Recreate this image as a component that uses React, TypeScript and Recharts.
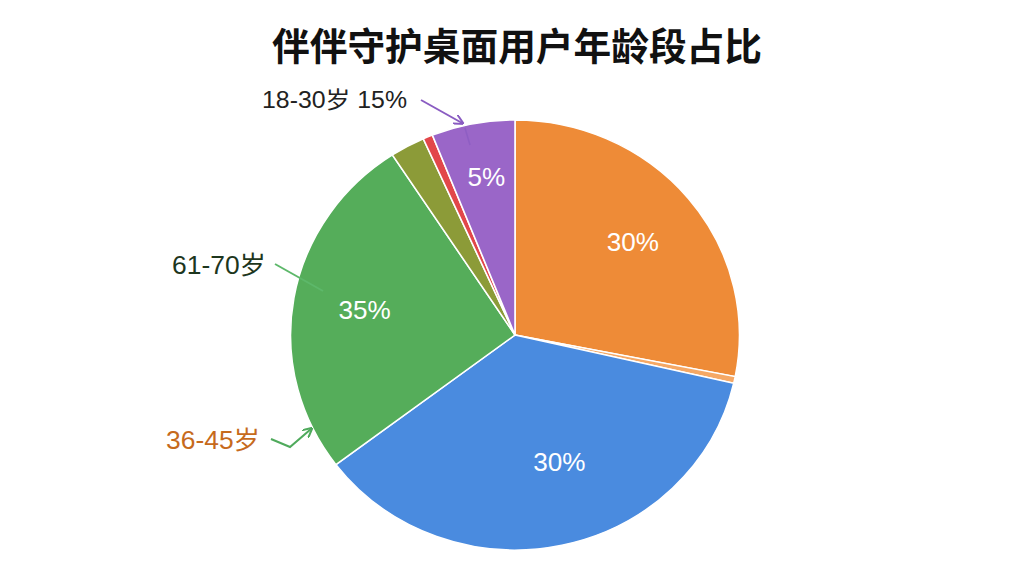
import React from "react";
import { PieChart, Pie, Cell } from "recharts";

// slices clockwise from 12 o'clock
const segments = ["orange", "orangeSliver", "blue", "green", "olive", "red", "purple"];
const shares = [28.1, 0.5, 36.1, 26.1, 2.5, 0.7, 6.0];
const sliceLabels = ["30%", "", "30%", "35%", "", "", "5%"];
const colors = ["#EE8B37", "#F5A865", "#4A8BDF", "#55AD5A", "#8C9B38", "#E2474A", "#9A66C8"];

const title = "伴伴守护桌面用户年龄段占比";
const callouts = ["18-30岁 15%", "61-70岁", "36-45岁"];

const data = segments.map((name, i) => ({ name, value: shares[i], label: sliceLabels[i] }));

const FONT = "'Liberation Sans', 'Noto Sans CJK SC', sans-serif";
const RAD = Math.PI / 180;
// the original picture is a little wider than tall
const STRETCH = 1.044;
// hand nudges for the in-slice labels, as in the original
const nudge: Record<string, [number, number]> = { blue: [12, -16], purple: [0, -14] };

const renderLabel = (props: any) => {
  const { cx, cy, midAngle, outerRadius, index } = props;
  const text = sliceLabels[index];
  if (!text) return null;
  const r = outerRadius * 0.68;
  const [nx, ny] = nudge[segments[index]] || [0, 0];
  const x = cx + r * Math.cos(-midAngle * RAD) + nx;
  const y = cy + r * Math.sin(-midAngle * RAD) + ny;
  return (
    <text x={x} y={y} fill="#fff" fontSize={25} fontFamily={FONT} textAnchor="middle" dominantBaseline="central">
      {text}
    </text>
  );
};

export default function App() {
  return (
    <div style={{ position: "absolute", left: 0, top: 0, width: 1024, height: 576, background: "#fff", overflow: "hidden" }}>
      <div style={{ position: "absolute", left: 0, top: 0, transform: `scaleX(${STRETCH})`, transformOrigin: "515px 0" }}>
        <PieChart width={1024} height={576} margin={{ top: 0, right: 0, bottom: 0, left: 0 }}>
          <Pie
            data={data}
            dataKey="value"
            nameKey="name"
            cx={515}
            cy={335}
            outerRadius={215}
            startAngle={90}
            endAngle={-270}
            stroke="#fff"
            strokeWidth={1.5}
            label={renderLabel}
            labelLine={false}
            isAnimationActive={false}
          >
            {data.map((d, i) => (
              <Cell key={d.name} fill={colors[i]} />
            ))}
          </Pie>
        </PieChart>
      </div>
      <svg width={1024} height={576} style={{ position: "absolute", left: 0, top: 0, pointerEvents: "none" }}>
        <defs>
          <marker id="ap" markerWidth="10" markerHeight="10" refX="8" refY="5" orient="auto" markerUnits="userSpaceOnUse">
            <path d="M0,0 L10,5 L0,10" fill="none" stroke="#8A5CC2" strokeWidth={2} />
          </marker>
          <marker id="ag" markerWidth="10" markerHeight="10" refX="8" refY="5" orient="auto" markerUnits="userSpaceOnUse">
            <path d="M0,0 L10,5 L0,10" fill="none" stroke="#4FAA5C" strokeWidth={2} />
          </marker>
        </defs>
        <text x={272} y={43} dominantBaseline="central" fontSize={38} fontWeight="bold" fill="#111"
          fontFamily="'Noto Sans CJK SC', sans-serif" textLength={490} lengthAdjust="spacingAndGlyphs">
          {title}
        </text>

        <text x={262} y={100} dominantBaseline="central" fontSize={23} fill="#222" fontFamily={FONT}
          textLength={145} lengthAdjust="spacingAndGlyphs">
          {callouts[0]}
        </text>
        <line x1={421} y1={100} x2={462} y2={123} stroke="#8A5CC2" strokeWidth={2} markerEnd="url(#ap)" />
        <line x1={465} y1={128} x2={470} y2={145} stroke="#8A5CC2" strokeWidth={1.5} opacity={0.7} />

        <text x={172} y={265} dominantBaseline="central" fontSize={25} fill="#1D361D" fontFamily={FONT}
          textLength={94} lengthAdjust="spacingAndGlyphs">
          {callouts[1]}
        </text>
        <line x1={275} y1={264} x2={323} y2={291} stroke="#5DB86A" strokeWidth={2} />

        <text x={166} y={440} dominantBaseline="central" fontSize={25} fill="#C66A1C" fontFamily={FONT}
          textLength={94} lengthAdjust="spacingAndGlyphs">
          {callouts[2]}
        </text>
        <polyline points="271,439 290,447 311,429" fill="none" stroke="#4FAA5C" strokeWidth={2} markerEnd="url(#ag)" />
      </svg>
    </div>
  );
}
